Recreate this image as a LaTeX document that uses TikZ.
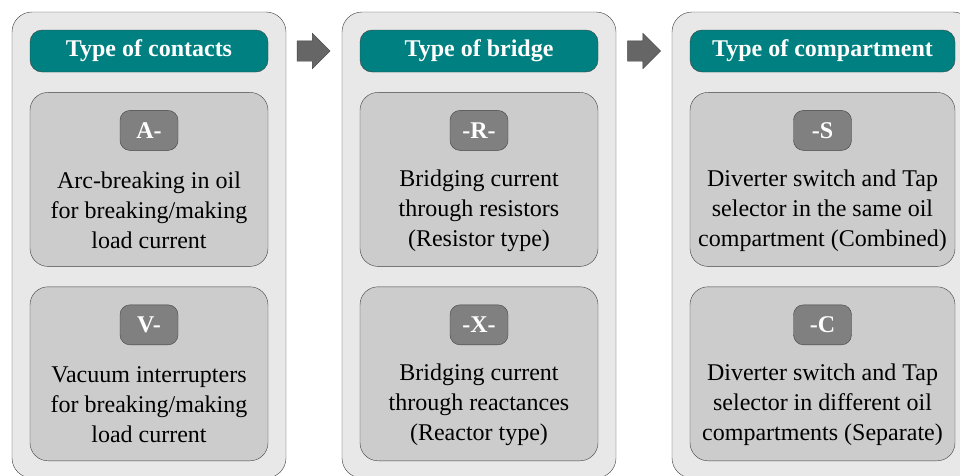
\documentclass[tikz,border=0pt]{standalone}
\usepackage{fontspec}
\setmainfont{Liberation Serif}
\usepackage{tikz}
\usetikzlibrary{positioning,shapes.arrows}
\definecolor{panelgray}{RGB}{232,232,232}
\definecolor{boxgray}{RGB}{204,204,204}
\definecolor{tagdark}{RGB}{128,128,128}
\definecolor{headteal}{RGB}{0,128,128}
\definecolor{arrowgray}{RGB}{102,102,102}

\begin{document}
\begin{tikzpicture}[x=1pt,y=-1pt,
panel/.style={draw=black!75,fill=panelgray,rounded corners=20pt,minimum width=274pt,minimum height=466pt,inner sep=0pt},
header/.style={draw=black!75,fill=headteal,rounded corners=12pt,minimum width=238pt,minimum height=42pt,inner sep=0pt,text=white,font=\fontsize{24}{28}\selectfont\bfseries},
option/.style={draw=black!75,fill=boxgray,rounded corners=18pt,minimum width=238pt,minimum height=174pt,inner sep=0pt},
tag/.style={draw=black!75,fill=tagdark,rounded corners=10pt,minimum width=58pt,minimum height=40pt,inner sep=0pt,text=white,font=\fontsize{24}{28}\selectfont\bfseries},
desc/.style={align=center,inner sep=0pt,font=\fontsize{24}{30}\selectfont},
flow/.style={single arrow,draw=black!75,fill=arrowgray,minimum height=33pt,minimum width=35pt,inner sep=10pt,single arrow head extend=7.5pt}
]
\useasboundingbox (0,0) rectangle (960,475);
% panels
\node[panel] (contacts) at (149,245) {};
\node[panel] (bridge) at (479,245) {};
\node[panel,minimum width=301pt] (compart) at (822.5,245) {};
% headers
\node[header] (hcontacts) at (149,51) {Type of contacts};
\node[header] (hbridge) at (479,51) {Type of bridge};
\node[header,minimum width=265pt] (hcompart) at (822.5,51) {Type of compartment};
% option boxes
\node[option,below=20pt of hcontacts] (arc) {};
\node[option,below=20pt of arc] (vac) {};
\node[option,below=20pt of hbridge] (res) {};
\node[option,below=20pt of res] (rea) {};
\node[option,minimum width=265pt,below=20pt of hcompart] (comb) {};
\node[option,minimum width=265pt,below=20pt of comb] (sep) {};
% tags
\node[tag,below=18pt of arc.north] (tA) {A-};
\node[tag,below=18pt of vac.north] (tV) {V-};
\node[tag,below=18pt of res.north] (tR) {-R-};
\node[tag,below=18pt of rea.north] (tX) {-X-};
\node[tag,below=18pt of comb.north] (tS) {-S};
\node[tag,below=18pt of sep.north] (tC) {-C};
% descriptions
\node[desc] (darc) at ([yshift=-31pt]arc.center) {Arc-breaking in oil\\for breaking/making\\load current};
\node[desc] (dvac) at ([yshift=-31pt]vac.center) {Vacuum interrupters\\for breaking/making\\load current};
\node[desc] (dres) at ([yshift=-31pt]res.center) {Bridging current\\through resistors\\(Resistor type)};
\node[desc] (drea) at ([yshift=-31pt]rea.center) {Bridging current\\through reactances\\(Reactor type)};
\node[desc] (dcomb) at ([yshift=-31pt]comb.center) {Diverter switch and Tap\\selector in the same oil\\compartment (Combined)};
\node[desc] (dsep) at ([yshift=-31pt]sep.center) {Diverter switch and Tap\\selector in different oil\\compartments (Separate)};
% block arrows
\node[flow] (a1) at (308.5,51) {};
\node[flow] (a2) at (639,51) {};
\end{tikzpicture}
\end{document}
